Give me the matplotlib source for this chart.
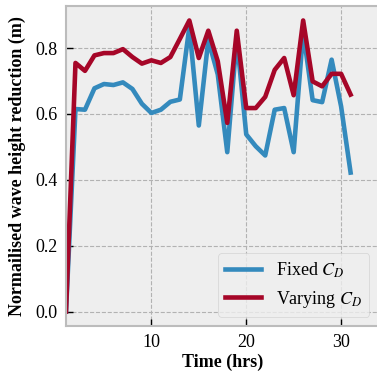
import matplotlib
matplotlib.use("Agg")
import matplotlib.pyplot as plt

time_hrs = list(range(1, 32))
fixed_cd = [0.0, 0.615, 0.613, 0.678, 0.691, 0.688, 0.696, 0.676, 0.631, 0.603,
            0.613, 0.637, 0.644, 0.864, 0.565, 0.825, 0.72, 0.484, 0.83, 0.538,
            0.502, 0.474, 0.613, 0.618, 0.484, 0.85, 0.642, 0.636, 0.765, 0.623,
            0.422]
varying_cd = [0.0, 0.755, 0.731, 0.778, 0.785, 0.785, 0.797, 0.773, 0.753, 0.763,
              0.755, 0.773, 0.828, 0.884, 0.770, 0.853, 0.760, 0.573, 0.853, 0.618,
              0.618, 0.652, 0.734, 0.770, 0.657, 0.884, 0.699, 0.684, 0.722, 0.722,
              0.659]

plt.style.use("bmh")
plt.rcParams["font.family"] = ["Liberation Serif", "DejaVu Serif"]
plt.rcParams["mathtext.fontset"] = "stix"

fig = plt.figure(figsize=(3.77, 3.75), dpi=100)
ax = fig.add_axes([66 / 377, 1 - 326 / 375, 314 / 377, 320 / 375])
ax.set_facecolor("#eeeeee")
ax.plot(time_hrs, fixed_cd, color="#348ABD", lw=3.3, label="Fixed $C_D$")
ax.plot(time_hrs, varying_cd, color="#A60628", lw=3.3, label="Varying $C_D$")

ax.set_xlim(1, 34.1)
ax.set_ylim(-0.044, 0.928)
ax.set_xticks([10, 20, 30])
ax.set_yticks([0.0, 0.2, 0.4, 0.6, 0.8])
ax.set_yticklabels(["0.0", "0.2", "0.4", "0.6", "0.8"])
ax.tick_params(direction="in", length=5, width=1, labelsize=13, colors="black")
ax.tick_params(axis="y", pad=6)
ax.tick_params(axis="x", pad=6)
ax.grid(True, color="#b2b2b2", linestyle="--", linewidth=0.8)
for s in ax.spines.values():
    s.set_color("#bcbcbc")
    s.set_linewidth(1.5)

ax.set_xlabel("Time (hrs)", fontsize=13, fontweight="bold", labelpad=2)
ax.set_ylabel("Normailised wave height reduction (m)", fontsize=13,
              fontweight="bold", labelpad=7)

leg = ax.legend(loc="lower right", fontsize=13, frameon=True,
                bbox_to_anchor=(0.995, 0.0))
leg.get_frame().set_facecolor("#eeeeee")
leg.get_frame().set_edgecolor("#cccccc")

fig.savefig("out.png", dpi=100)
